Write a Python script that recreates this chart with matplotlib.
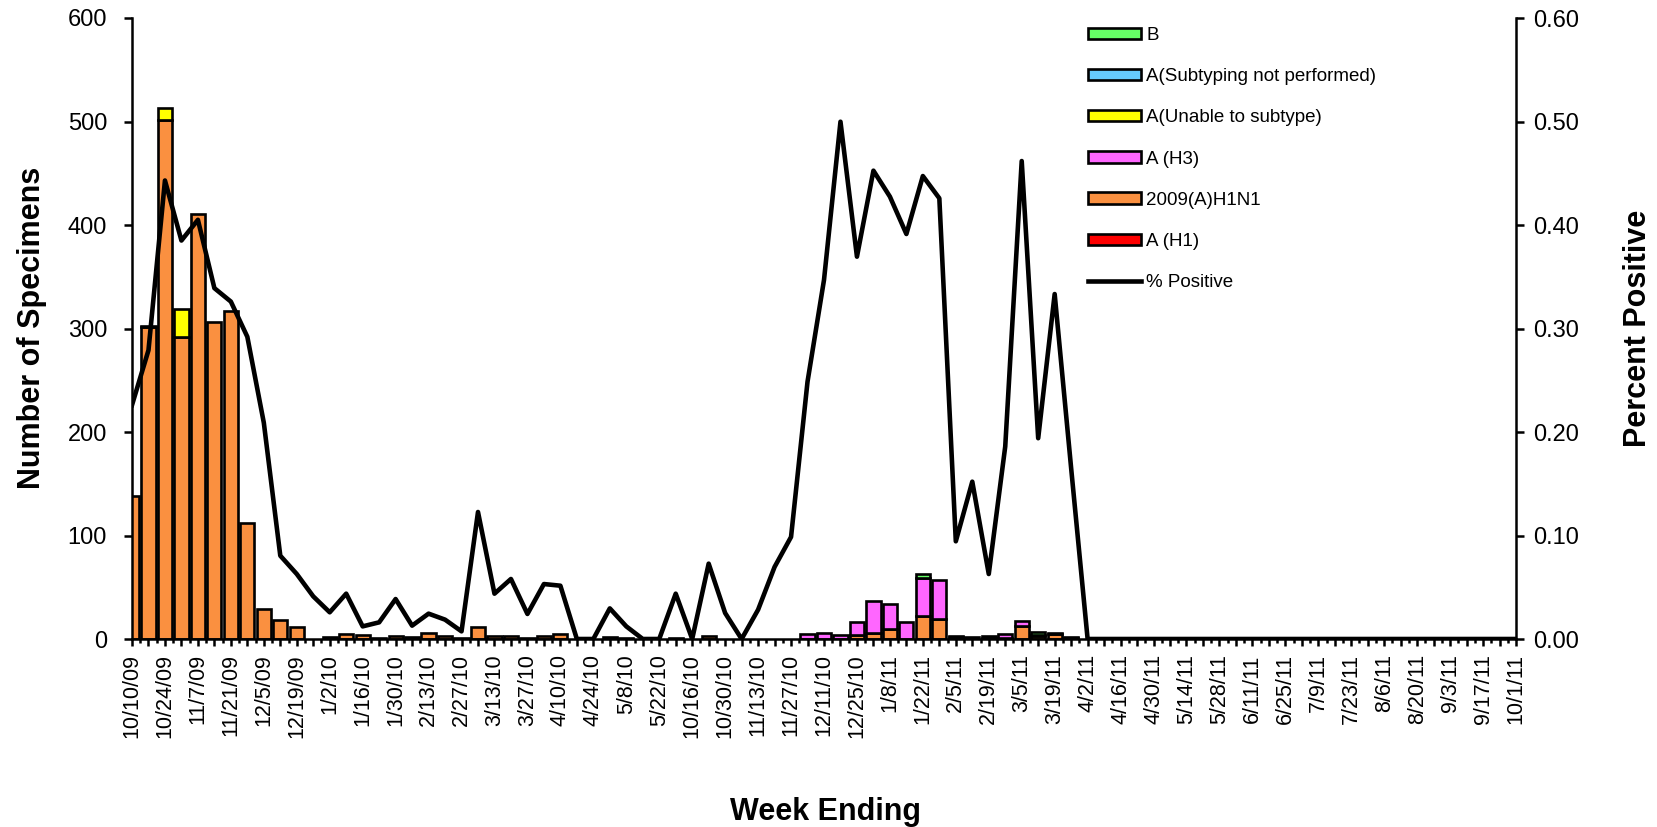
import matplotlib
matplotlib.use("Agg")
import matplotlib.pyplot as plt
from matplotlib.patches import Patch
from matplotlib.lines import Line2D
from matplotlib.ticker import FixedLocator, FuncFormatter
import numpy as np

# ---------------- data ----------------
weeks = ["10/10/09", "10/17/09", "10/24/09", "10/31/09", "11/7/09", "11/14/09", "11/21/09", "11/28/09",
         "12/5/09", "12/12/09", "12/19/09", "12/26/09", "1/2/10", "1/9/10", "1/16/10", "1/23/10",
         "1/30/10", "2/6/10", "2/13/10", "2/20/10", "2/27/10", "3/6/10", "3/13/10", "3/20/10",
         "3/27/10", "4/3/10", "4/10/10", "4/17/10", "4/24/10", "5/1/10", "5/8/10", "5/15/10",
         "5/22/10", "10/9/10", "10/16/10", "10/23/10", "10/30/10", "11/6/10", "11/13/10", "11/20/10",
         "11/27/10", "12/4/10", "12/11/10", "12/18/10", "12/25/10", "1/1/11", "1/8/11", "1/15/11",
         "1/22/11", "1/29/11", "2/5/11", "2/12/11", "2/19/11", "2/26/11", "3/5/11", "3/12/11",
         "3/19/11", "3/26/11", "4/2/11", "4/9/11", "4/16/11", "4/23/11", "4/30/11", "5/7/11",
         "5/14/11", "5/21/11", "5/28/11", "6/4/11", "6/11/11", "6/18/11", "6/25/11", "7/2/11",
         "7/9/11", "7/16/11", "7/23/11", "7/30/11", "8/6/11", "8/13/11", "8/20/11", "8/27/11",
         "9/3/11", "9/10/11", "9/17/11", "9/24/11", "10/1/11"]

a_h1 = [0, 0, 0, 0, 0, 0, 0, 0, 0, 0,
        0, 0, 0, 0, 0, 0, 0, 0, 0, 0,
        0, 0, 0, 0, 0, 0, 0, 0, 0, 0,
        0, 0, 0, 0, 0, 0, 0, 0, 0, 0,
        0, 0, 0, 0, 0, 0, 0, 0, 0, 0,
        0, 0, 0, 0, 0, 0, 0, 0, 0, 0,
        0, 0, 0, 0, 0, 0, 0, 0, 0, 0,
        0, 0, 0, 0, 0, 0, 0, 0, 0, 0,
        0, 0, 0, 0, 0]

h1n1_2009 = [138, 301, 501, 292, 411, 306, 317, 112, 29, 18,
             12, 0, 2, 5, 4, 1, 3, 2, 6, 3,
             1, 12, 3, 3, 1, 3, 5, 0, 0, 2,
             1, 0, 0, 1, 0, 3, 0, 0, 0, 0,
             0, 0, 0, 0, 4, 6, 10, 0, 22, 19,
             2, 2, 1, 1, 13, 3, 5, 1, 0, 0,
             0, 0, 0, 0, 0, 0, 0, 0, 0, 0,
             0, 0, 0, 0, 0, 0, 0, 0, 0, 0,
             0, 0, 0, 0, 0]

a_h3 = [0, 0, 0, 0, 0, 0, 0, 0, 0, 0,
        0, 0, 0, 0, 0, 0, 0, 0, 0, 0,
        0, 0, 0, 0, 0, 0, 0, 0, 0, 0,
        0, 0, 0, 0, 0, 0, 0, 0, 0, 0,
        0, 5, 6, 4, 12, 31, 24, 16, 37, 38,
        1, 0, 2, 4, 4, 1, 1, 1, 0, 0,
        0, 0, 0, 0, 0, 0, 0, 0, 0, 0,
        0, 0, 0, 0, 0, 0, 0, 0, 0, 0,
        0, 0, 0, 0, 0]

a_unable = [0, 0, 12, 27, 0, 0, 0, 0, 0, 0,
            0, 0, 0, 0, 0, 0, 0, 0, 0, 0,
            0, 0, 0, 0, 0, 0, 0, 0, 0, 0,
            0, 0, 0, 0, 0, 0, 0, 0, 0, 0,
            0, 0, 0, 0, 0, 0, 0, 0, 0, 0,
            0, 0, 0, 0, 0, 0, 0, 0, 0, 0,
            0, 0, 0, 0, 0, 0, 0, 0, 0, 0,
            0, 0, 0, 0, 0, 0, 0, 0, 0, 0,
            0, 0, 0, 0, 0]

a_not_subtyped = [0, 0, 0, 0, 0, 0, 0, 0, 0, 0,
                  0, 0, 0, 0, 0, 0, 0, 0, 0, 0,
                  0, 0, 0, 0, 0, 0, 0, 0, 0, 0,
                  0, 0, 0, 0, 0, 0, 0, 0, 0, 0,
                  0, 0, 0, 0, 0, 0, 0, 0, 0, 0,
                  0, 0, 0, 0, 0, 0, 0, 0, 0, 0,
                  0, 0, 0, 0, 0, 0, 0, 0, 0, 0,
                  0, 0, 0, 0, 0, 0, 0, 0, 0, 0,
                  0, 0, 0, 0, 0]

flu_b = [0, 1, 0, 0, 0, 0, 0, 0, 0, 0,
         0, 0, 0, 0, 0, 0, 0, 0, 0, 0,
         0, 0, 0, 0, 0, 0, 0, 0, 0, 0,
         0, 0, 0, 0, 0, 0, 0, 0, 0, 0,
         0, 0, 0, 0, 0, 0, 0, 0, 4, 0,
         0, 0, 0, 0, 0, 3, 0, 0, 0, 0,
         0, 0, 0, 0, 0, 0, 0, 0, 0, 0,
         0, 0, 0, 0, 0, 0, 0, 0, 0, 0,
         0, 0, 0, 0, 0]

pct_positive = [0.226, 0.279, 0.443, 0.385, 0.405, 0.339, 0.326, 0.292, 0.209, 0.0805,
                0.0628, 0.0412, 0.0258, 0.0438, 0.0122, 0.0161, 0.0386, 0.0129, 0.0245, 0.0187,
                0.0074, 0.1227, 0.0438, 0.058, 0.0242, 0.0531, 0.0515, 0.0, 0.0, 0.0296,
                0.0122, 0.0, 0.0, 0.0438, 0.0, 0.0728, 0.0251, 0.0, 0.0283, 0.0696,
                0.0986, 0.2486, 0.3469, 0.4998, 0.3694, 0.4525, 0.4274, 0.3913, 0.4473, 0.4258,
                0.0944, 0.152, 0.0628, 0.186, 0.4618, 0.194, 0.3333, 0.165, 0.0, 0.0,
                0.0, 0.0, 0.0, 0.0, 0.0, 0.0, 0.0, 0.0, 0.0, 0.0,
                0.0, 0.0, 0.0, 0.0, 0.0, 0.0, 0.0, 0.0, 0.0, 0.0,
                0.0, 0.0, 0.0, 0.0, 0.0]

left_ticks = [0, 100, 200, 300, 400, 500, 600]
right_ticks = [0.0, 0.1, 0.2, 0.3, 0.4, 0.5, 0.6]

# stacking order (bottom -> top) and colours
stack = [
    ("A (H1)", a_h1, "#FF0000"),
    ("2009(A)H1N1", h1n1_2009, "#FA9040"),
    ("A (H3)", a_h3, "#FF66FF"),
    ("A(Unable to subtype)", a_unable, "#FFFF00"),
    ("A(Subtyping not performed)", a_not_subtyped, "#66CCFF"),
    ("B", flu_b, "#66FF66"),
]

# ---------------- figure ----------------
plt.rcParams['font.family'] = ['Liberation Sans', 'DejaVu Sans']
W, H = 1657, 827
fig = plt.figure(figsize=(W / 100, H / 100), dpi=100)
L, R, T, B = 132, 1516, 18, 639
ax = fig.add_axes([L / W, 1 - B / H, (R - L) / W, (B - T) / H])

EDGE = 1.9
LINE = 3.3

x = np.arange(len(weeks))
bottom = np.zeros(len(weeks))
for name, vals, col in stack:
    v = np.array(vals, dtype=float)
    m = v > 0
    if m.any():
        ax.bar(x[m], v[m], bottom=bottom[m], width=0.86, color=col,
               edgecolor="black", linewidth=EDGE, zorder=2)
    bottom += v

ax.set_xlim(0, len(weeks) - 1)
ax.set_ylim(0, 600)
ax.set_yticks(left_ticks)
ax.set_yticklabels([str(t) for t in left_ticks])

ax.xaxis.set_major_locator(FixedLocator(x))
ax.set_xticklabels([w if i % 2 == 0 else "" for i, w in enumerate(weeks)],
                   rotation=90, fontsize=15.5)
ax.xaxis.set_minor_locator(FixedLocator(x[:-1] + 0.5))
ax.tick_params(axis="x", which="major", direction="out", length=5, width=1.8, pad=6)
ax.tick_params(axis="x", which="minor", direction="out", length=3, width=1.8)
ax.tick_params(axis="y", which="major", direction="out", length=6, width=1.8,
               labelsize=17, pad=12)

for s in ["top", "right"]:
    ax.spines[s].set_visible(False)
for s in ["left", "bottom"]:
    ax.spines[s].set_linewidth(1.8)

ax2 = ax.twinx()
ax2.plot(x, pct_positive, color="black", linewidth=LINE, zorder=3)
ax2.set_ylim(0, 0.6)
ax2.set_yticks(right_ticks)
ax2.yaxis.set_major_formatter(FuncFormatter(lambda v, p: f"{v:.2f}"))
ax2.tick_params(axis="y", which="major", direction="out", length=6, width=1.8,
                labelsize=17, pad=6)
for s in ["top", "left", "bottom"]:
    ax2.spines[s].set_visible(False)
ax2.spines["right"].set_linewidth(1.8)

# legend
order = ["B", "A(Subtyping not performed)", "A(Unable to subtype)", "A (H3)",
         "2009(A)H1N1", "A (H1)"]
colmap = {n: c for n, _, c in stack}
handles = [Patch(facecolor=colmap[n], edgecolor="black", linewidth=EDGE) for n in order]
handles.append(Line2D([0], [0], color="black", linewidth=LINE))
labels = order + ["% Positive"]
fig.legend(handles, labels, loc="upper left", bbox_to_anchor=(1088 / W, 1 - 27 / H),
           frameon=False, fontsize=13.5, handlelength=2.8, handleheight=0.55,
           labelspacing=1.29, handletextpad=0.3, borderaxespad=0, borderpad=0)

# axis titles
fig.text(32 / W, 1 - 328 / H, "Number of Specimens", rotation=90, ha="center",
         va="center", fontsize=22, fontweight="bold")
fig.text(1638 / W, 1 - 328 / H, "Percent Positive", rotation=90, ha="center",
         va="center", fontsize=22, fontweight="bold")
fig.text(825 / W, 1 - 812 / H, "Week Ending", ha="center", va="center",
         fontsize=22, fontweight="bold")

fig.savefig("out.png", dpi=100)
